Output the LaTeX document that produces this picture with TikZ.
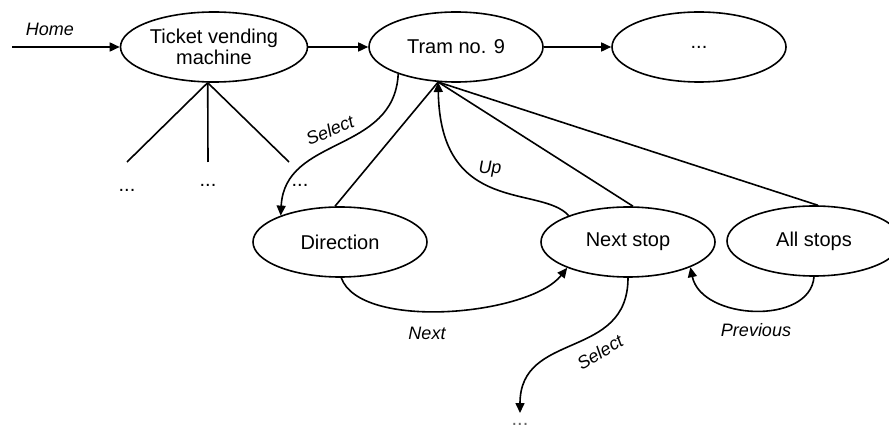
\documentclass[tikz,border=0pt]{standalone}
\usepackage{fontspec}
\setmainfont{Liberation Sans}
\usetikzlibrary{arrows.meta,positioning,shapes.geometric}

\begin{document}
\begin{tikzpicture}[x=0.5pt,y=-0.5pt,
  state/.style={draw,ellipse,line width=0.8pt,minimum width=87pt,minimum height=35pt,
    inner sep=1pt,align=center,font=\fontsize{10}{10.8}\selectfont},
  lbl/.style={font=\fontsize{9}{10}\selectfont\itshape,inner sep=1pt},
  dots/.style={font=\fontsize{10}{11}\selectfont,inner sep=1pt},
  link/.style={line width=0.8pt},
  flow/.style={line width=0.8pt,-{Triangle[length=5pt,width=4.5pt]}}]
\useasboundingbox (0,0) rectangle (889,427);

\node[state] (tvm) at (214,47) {Ticket vending\\machine};
\node[state] (tram) at (456,47) {Tram no. 9};
\node[state] (more) at (699,47) {...};
\node[state] (dir) at (340,242) {Direction};
\node[state] (next) at (628,242) {Next stop};
\node[state] (all) at (814,241) {All stops};

\coordinate (home) at (12,47);
\coordinate (leaf1) at (127,162);
\coordinate (leaf2) at (208,162);
\coordinate (leaf3) at (289,162);

\node[dots, below=12.5pt of leaf1] (d1) {...};
\node[dots, below=10pt of leaf2] (d2) {...};
\node[dots, below=10pt of leaf3, xshift=5.5pt] (d3) {...};
\node[dots, anchor=north, inner ysep=5pt, text=black!60] (d4) at (520,413) {...};

% top row
\draw[flow] (home) -- (tvm.west);
\draw[flow] (tvm.east) -- (tram.west);
\draw[flow] (tram.east) -- (more.west);
\node[lbl] (homelbl) at (50,29) {Home};

% machine menu
\draw[link] (tvm.260) -- (leaf1);
\draw[link] (tvm.260) -- (leaf2);
\draw[link] (tvm.260) -- (leaf3);

% tram menu
\draw[link] (tram.243) -- (dir.98);
\draw[link] (tram.243) -- (next.82);
\draw[link] (tram.243) -- (all.84);
\draw[flow] (tram.205) .. controls +(-4,80) and +(4,-80) .. (dir.156);
\draw[flow] (next.156) .. controls +(-28,-31) and +(2,134) .. (tram.243);
\draw[flow] (dir.272) .. controls +(19,53) and +(-38,48) .. (next.203);
\draw[flow] (all.south) .. controls +(-4,49) and +(11,53) .. (next.-22);
\draw[flow] (next.south) .. controls +(0,83) and +(0,-83) .. (d4.north);

\node[lbl, rotate=23] (sel1) at (330,130) {Select};
\node[lbl] (uplbl) at (490,169) {Up};
\node[lbl] (nextlbl) at (427,333) {Next};
\node[lbl] (prevlbl) at (756,330) {Previous};
\node[lbl, rotate=31] (sel2) at (600,352) {Select};
\end{tikzpicture}
\end{document}
